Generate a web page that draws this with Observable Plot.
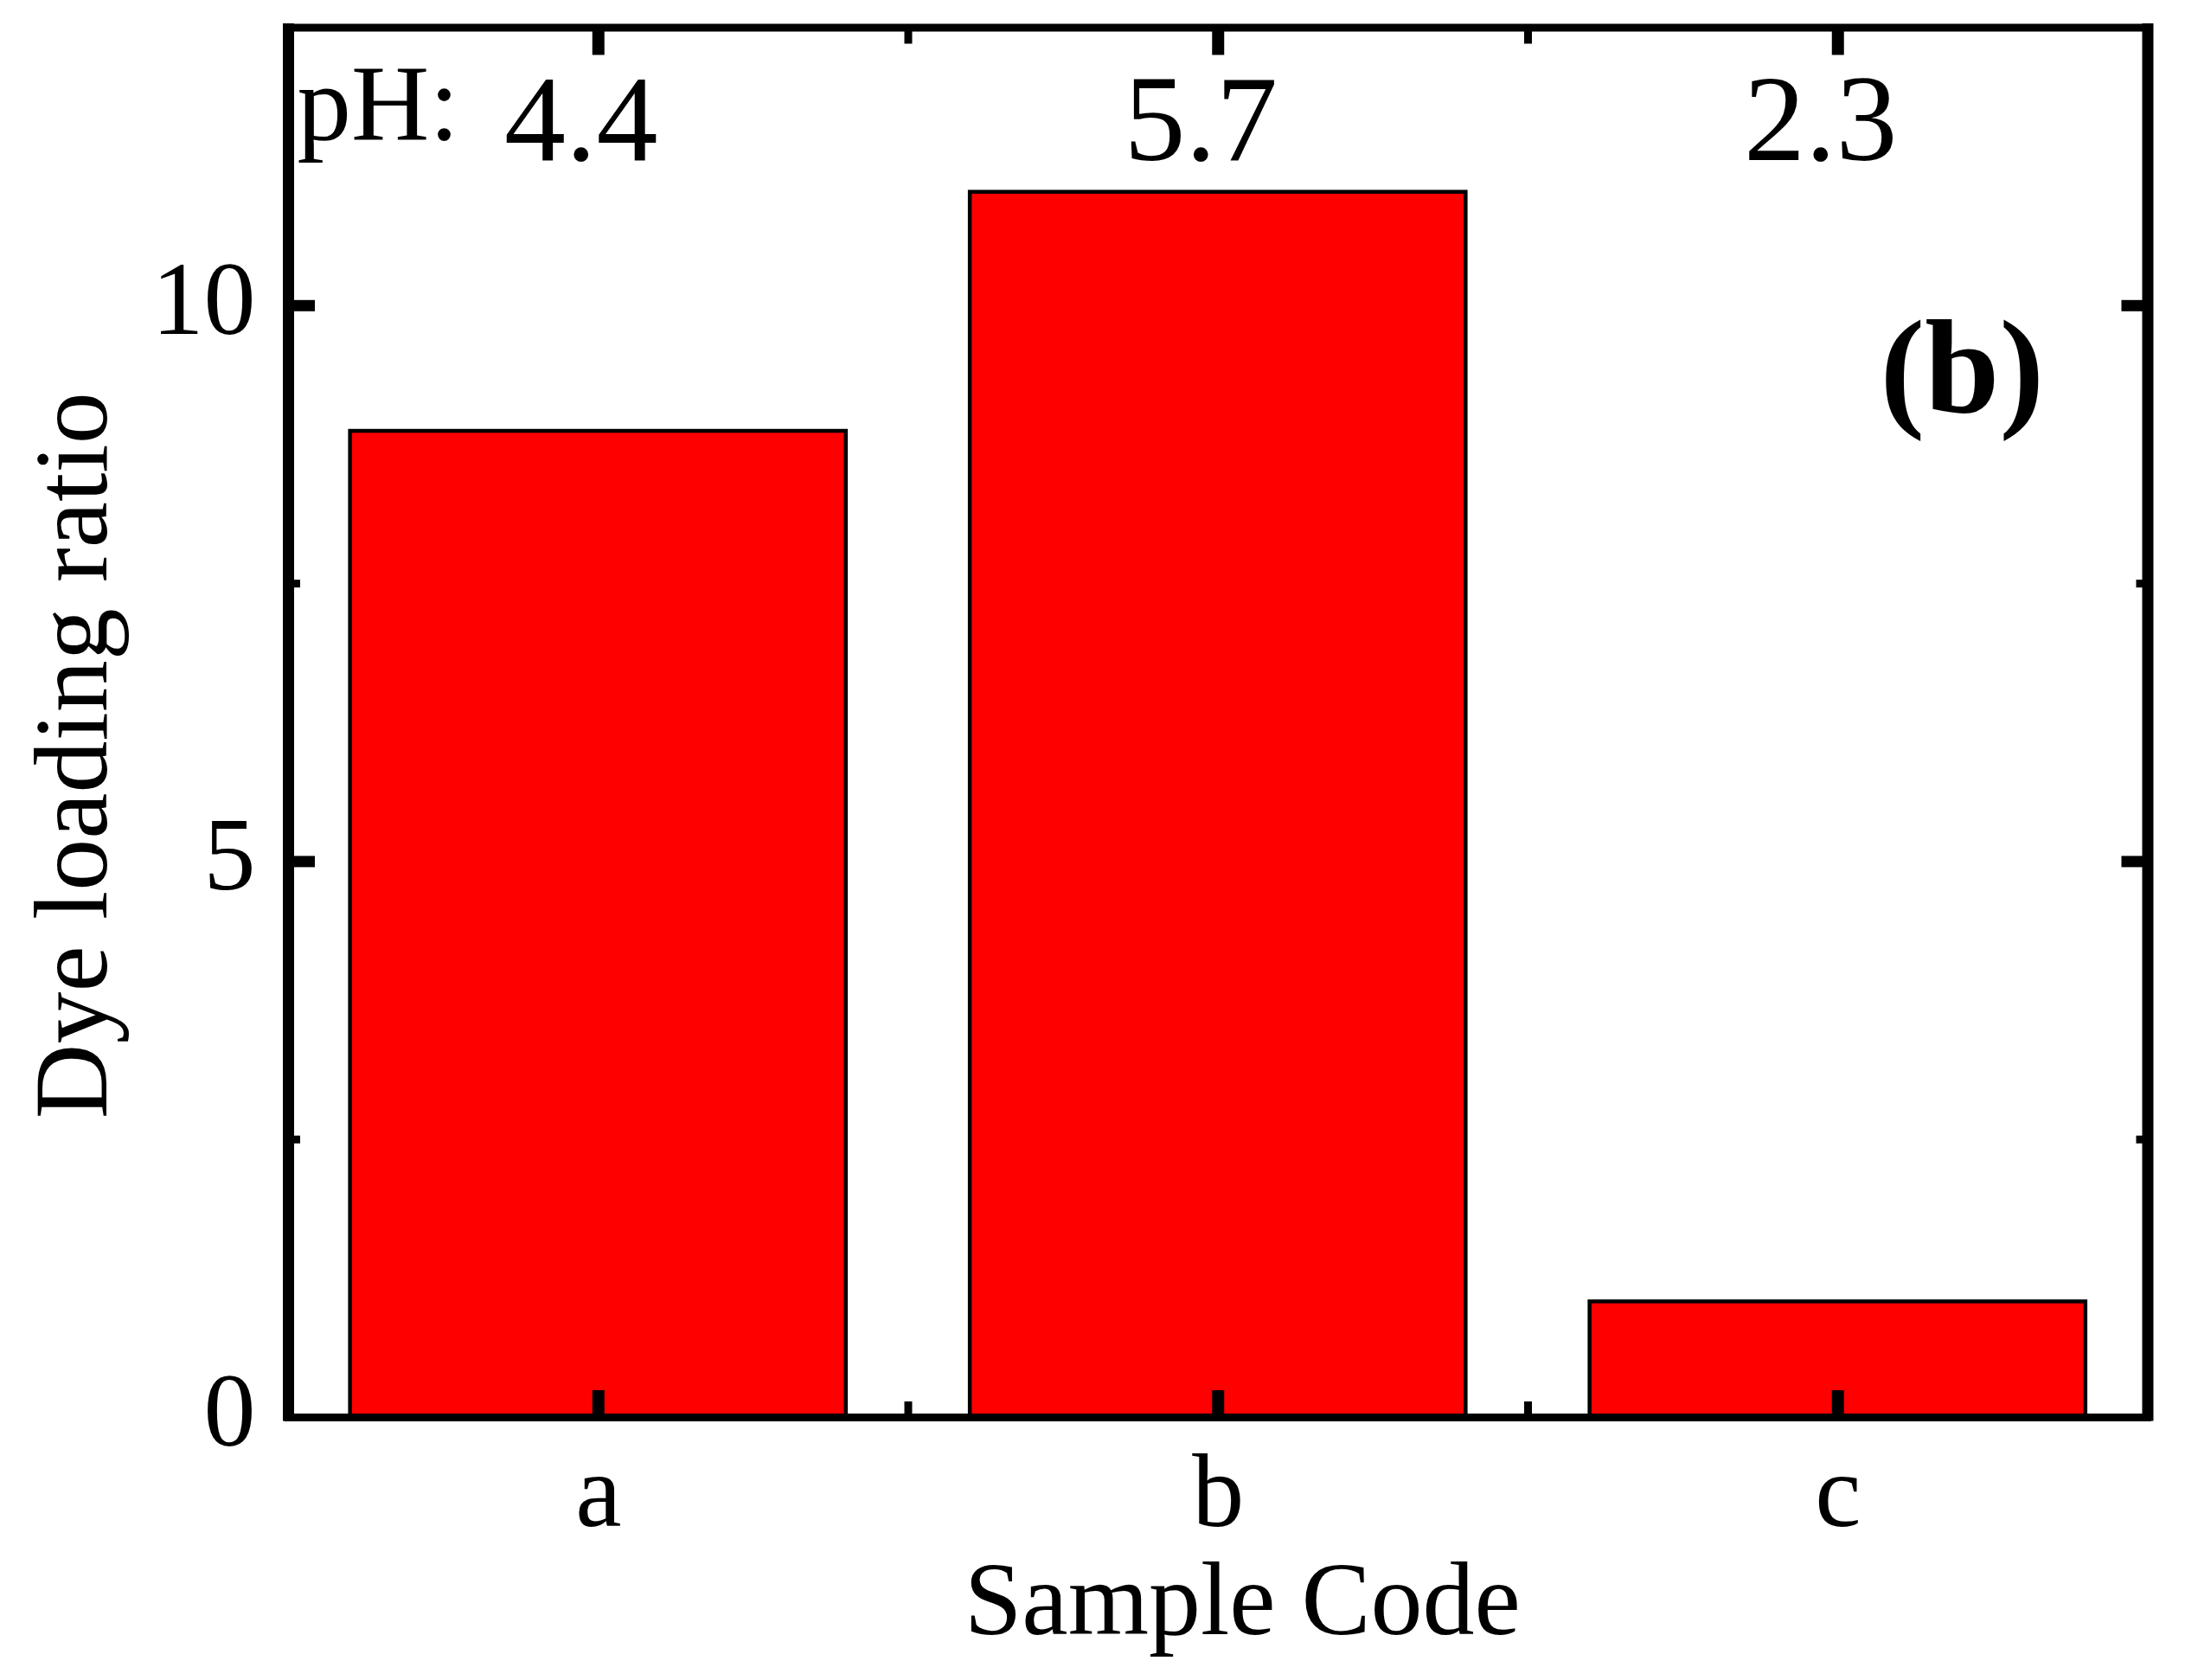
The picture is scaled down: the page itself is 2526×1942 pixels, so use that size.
<!DOCTYPE html>
<html>
<head>
<meta charset="utf-8">
<script src="https://cdn.jsdelivr.net/npm/d3@7"></script>
<script src="https://cdn.jsdelivr.net/npm/@observablehq/plot@0.6"></script>
<style>
  html, body { margin: 0; padding: 0; background: #ffffff; }
  #chart svg { display: block; }
</style>
</head>
<body>
<div id="chart"></div>
<script>
// ---- data ----
const samples = ["a", "b", "c"];
const dyeLoadingRatio = [8.87, 11.02, 1.04];
const pHValues = ["4.4", "5.7", "2.3"];
const yLabelTicks = [0, 5, 10];
const yMajorTicks = [5, 10];
const yMinorTicks = [2.5, 7.5];
const xMajorTicks = [1, 2, 3];
const xMinorTicks = [1.5, 2.5];
const yDomain = [0, 12.5];
const xDomain = [0.5, 3.5];

const data = samples.map((s, i) => ({ sample: s, pos: i + 1, value: dyeLoadingRatio[i], ph: pHValues[i] }));

const font = "'Liberation Serif', 'Times New Roman', Times, serif";

const chart = Plot.plot({
  width: 2526,
  height: 1942,
  marginLeft: 333,
  marginRight: 43.5,
  marginTop: 31.5,
  marginBottom: 304,
  style: { fontFamily: font, color: "#000", background: "#fff", overflow: "visible" },
  x: { type: "linear", domain: xDomain },
  y: { domain: yDomain },
  marks: [
    // bars
    Plot.rectY(data, {
      x1: d => d.pos - 0.4,
      x2: d => d.pos + 0.4,
      y: "value",
      fill: "#ff0000",
      stroke: "#000",
      strokeWidth: 4.5
    }),
    // inward ticks (major & minor) on all four sides
    Plot.axisX({ anchor: "bottom", ticks: xMajorTicks, tickSize: -31, strokeWidth: 14, fill: "none", label: null }),
    Plot.axisX({ anchor: "bottom", ticks: xMinorTicks, tickSize: -18, strokeWidth: 9, fill: "none", label: null }),
    Plot.axisX({ anchor: "top", ticks: xMajorTicks, tickSize: -31, strokeWidth: 14, fill: "none", label: null }),
    Plot.axisX({ anchor: "top", ticks: xMinorTicks, tickSize: -18, strokeWidth: 9, fill: "none", label: null }),
    Plot.axisY({ anchor: "left", ticks: yMajorTicks, tickSize: -31, strokeWidth: 13, fill: "none", label: null }),
    Plot.axisY({ anchor: "left", ticks: yMinorTicks, tickSize: -14, strokeWidth: 9, fill: "none", label: null }),
    Plot.axisY({ anchor: "right", ticks: yMajorTicks, tickSize: -31, strokeWidth: 13, fill: "none", label: null }),
    Plot.axisY({ anchor: "right", ticks: yMinorTicks, tickSize: -14, strokeWidth: 9, fill: "none", label: null }),
    // tick labels
    Plot.axisX({ anchor: "bottom", ticks: xMajorTicks, tickSize: 0, tickPadding: 40, fontSize: 120,
                 tickFormat: d => samples[d - 1], label: null }),
    Plot.axisY({ anchor: "left", ticks: yLabelTicks, tickSize: 0, tickPadding: 38, fontSize: 120,
                 tickFormat: d => String(d), label: null, dy: -6 }),
    // frame
    Plot.ruleX(xDomain, { stroke: "#000", strokeWidth: 13, insetTop: -4.5, insetBottom: -4.5 }),
    Plot.ruleY(yDomain, { stroke: "#000", strokeWidth: 9, strokeLinecap: "square" }),
    // axis titles
    Plot.text(["Sample Code"], { frameAnchor: "bottom", lineAnchor: "top", dx: 28, dy: 165, fontSize: 120, fill: "#000" }),
    Plot.text(["Dye loading ratio"], { frameAnchor: "left", rotate: -90, textAnchor: "middle", lineAnchor: "middle",
                                      dx: -249, dy: 38, fontSize: 120, fill: "#000" }),
    // annotations
    Plot.text(["pH:"], { frameAnchor: "top-left", textAnchor: "start", lineAnchor: "top", dx: 10, dy: 40, fontSize: 125, fill: "#000" }),
    Plot.text(data, { x: "pos", text: "ph", frameAnchor: "top", lineAnchor: "top", dx: -20, dy: 52, fontSize: 142, fill: "#000" }),
    Plot.text(["(b)"], { frameAnchor: "top-right", textAnchor: "end", lineAnchor: "top", dx: -120, dy: 335,
                         fontSize: 155, fontWeight: "bold", fill: "#000" })
  ]
});

document.getElementById("chart").appendChild(chart);
</script>
</body>
</html>
